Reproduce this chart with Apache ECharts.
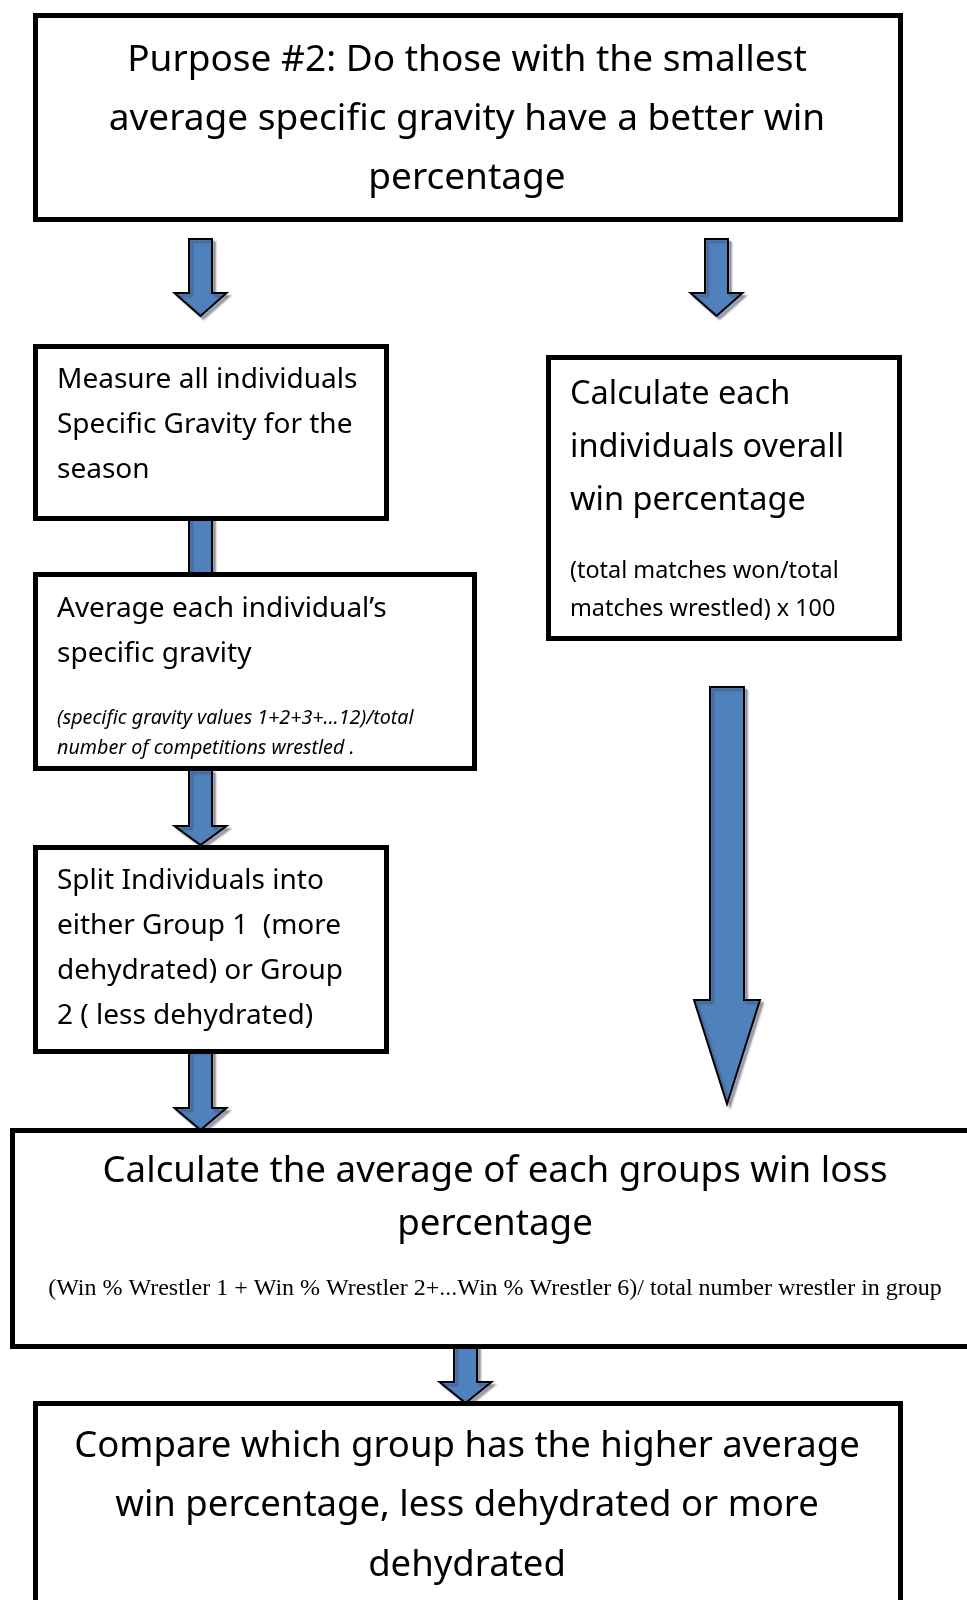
<!DOCTYPE html>
<html>
<head>
<meta charset="utf-8">
<script src="https://cdn.jsdelivr.net/npm/echarts@6/dist/echarts.min.js"></script>
<style>
  html, body { margin: 0; padding: 0; background: #fff; }
  #main { width: 967px; height: 1600px; }
</style>
</head>
<body>
<div id="main"></div>
<script>
// box texts, top to bottom
const purposeLines = ['Purpose #2: Do those with the smallest', 'average specific gravity have a better win', 'percentage']
const measureLines = ['Measure all individuals', 'Specific Gravity for the', 'season']
const averageLines = ['Average each individual\u2019s', 'specific gravity']
const averageNote = ['(specific gravity values 1+2+3+\u202612)/total', 'number of competitions wrestled .']
const splitLines = ['Split Individuals into', 'either Group 1  (more', 'dehydrated) or Group', '2 ( less dehydrated)']
const winLines = ['Calculate each', 'individuals overall', 'win percentage']
const winNote = ['(total matches won/total', 'matches wrestled) x 100']
const groupLines = ['Calculate the average of each groups win loss', 'percentage']
const groupNote = ['(Win % Wrestler 1 + Win % Wrestler 2+...Win % Wrestler 6)/ total number wrestler in group']
const compareLines = ['Compare which group has the higher average', 'win percentage, less dehydrated or more', 'dehydrated']

const SANS = '"Noto Sans", "Open Sans", sans-serif'
const SERIF = '"Liberation Serif", "DejaVu Serif", serif'
const BLUE = '#4f81bd'

const chart = echarts.init(document.getElementById('main'))

// outer edges of a box, border drawn inside
function box(x0, y0, x1, y1) {
  return {
    type: 'rect',
    z: 10,
    shape: { x: x0 + 2.5, y: y0 + 2.5, width: x1 - x0 - 5, height: y1 - y0 - 5 },
    style: { fill: '#fff', stroke: '#000', lineWidth: 5 }
  }
}

function lines(arr, x, y0, step, size, opts = {}) {
  const family = opts.family || SANS
  const align = opts.align || 'left'
  return arr.map((t, i) => ({
    type: 'text',
    z: 20,
    style: {
      text: t,
      x: x,
      y: y0 + i * step,
      font: (opts.italic ? 'italic ' : '') + size + 'px ' + family,
      fill: '#000',
      align: align,
      verticalAlign: 'middle',
      textAlign: align,
      textVerticalAlign: 'middle'
    }
  }))
}

// down arrow with a block head
function arrow(cx, top, headTop, tip, shaftW, headW) {
  const s = shaftW / 2, h = headW / 2
  return {
    type: 'polygon',
    z: 5,
    shape: {
      points: [
        [cx - s, top], [cx + s, top], [cx + s, headTop], [cx + h, headTop],
        [cx, tip], [cx - h, headTop], [cx - s, headTop]
      ]
    },
    style: {
      fill: BLUE, stroke: '#000', lineWidth: 2,
      shadowColor: 'rgba(60,60,90,0.45)', shadowBlur: 2, shadowOffsetX: 3, shadowOffsetY: 3
    }
  }
}

const elements = [
  // arrows first so boxes sit on top
  arrow(200.5, 239, 293, 316, 23, 52),
  arrow(716.5, 239, 293, 316, 23, 52),
  arrow(200.5, 515, 590, 605, 23, 52), // head hidden behind the next box
  arrow(200.5, 770, 826, 845, 23, 52),
  arrow(200.5, 1050, 1108, 1130, 23, 52),
  arrow(727, 687, 1000, 1104, 34, 66),
  arrow(465.5, 1343, 1382, 1403, 23, 52),

  box(33, 13, 903, 222),
  box(33, 344, 389, 521),
  box(33, 572, 477, 771),
  box(33, 845, 389, 1054),
  box(546, 355, 902, 641),
  box(10, 1128, 975, 1349),
  box(33, 1401, 903, 1640),

  ...lines(purposeLines, 467, 60, 59, 37, { align: 'center' }),
  ...lines(measureLines, 57, 380.5, 45, 28),
  ...lines(averageLines, 57, 609, 45, 28),
  ...lines(averageNote, 57, 718, 30, 19.7, { italic: true }),
  ...lines(splitLines, 57, 881.5, 45, 28),
  ...lines(winLines, 570, 394.5, 53, 32.5),
  ...lines(winNote, 570, 571, 38, 23.4),
  ...lines(groupLines, 495, 1172, 53, 36.7, { align: 'center' }),
  ...lines(groupNote, 495, 1289, 30, 24, { align: 'center', family: SERIF }),
  ...lines(compareLines, 467, 1446.5, 59.5, 36.5, { align: 'center' })
]

chart.setOption({
  animation: false,
  graphic: { elements: elements }
})
</script>
</body>
</html>
